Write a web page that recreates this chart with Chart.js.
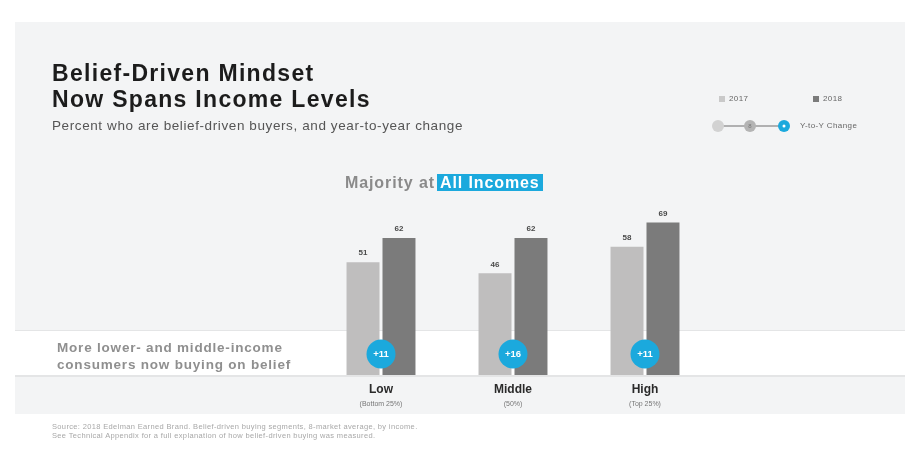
<!DOCTYPE html>
<html>
<head>
<meta charset="utf-8">
<script src="https://cdn.jsdelivr.net/npm/chart.js@4"></script>
<style>
  body { margin: 0; background: #fff; font-family: "Liberation Sans", Arial, sans-serif; }
  #wrap { position: relative; width: 905px; height: 458px; overflow: hidden; }
  #chart { position: absolute; left: 0; top: 0; }
  .txt { position: absolute; white-space: nowrap; }
  #title { left: 52px; top: 60px; font-size: 23px; font-weight: bold; color: #1c1c1c; line-height: 26px; letter-spacing: 1.3px; }
  #sub { left: 52px; top: 118px; font-size: 13.5px; color: #555; letter-spacing: 0.6px; }
  #maj { left: 345px; top: 172px; font-size: 16px; font-weight: bold; color: #8a8a8a; line-height: 22px; letter-spacing: 0.9px; }
  #maj span { background: #1ba9dd; color: #fff; padding: 0 3px; margin-left: 2px; }
  #msg { left: 57px; top: 339px; font-size: 13.5px; font-weight: bold; color: #8f8f8f; line-height: 17px; letter-spacing: 0.8px; }
  #src { left: 52px; top: 423px; font-size: 7.5px; color: #a8a8a8; line-height: 8.5px; letter-spacing: 0.35px; }
  .leg { font-size: 8px; color: #666; letter-spacing: 0.4px; }
</style>
</head>
<body>
<div id="wrap">
  <canvas id="chart" width="905" height="458"></canvas>
  <div class="txt" id="title">Belief-Driven Mindset<br>Now Spans Income Levels</div>
  <div class="txt" id="sub">Percent who are belief-driven buyers, and year-to-year change</div>
  <div class="txt" id="maj">Majority at<span>All Incomes</span></div>
  <div class="txt" id="msg">More lower- and middle-income<br>consumers now buying on belief</div>
  <div class="txt" id="src">Source: 2018 Edelman Earned Brand. Belief-driven buying segments, 8-market average, by income.<br>See Technical Appendix for a full explanation of how belief-driven buying was measured.</div>
  <div class="txt leg" style="left:729px; top:94px;">2017</div>
  <div class="txt leg" style="left:823px; top:94px;">2018</div>
  <div class="txt leg" style="left:800px; top:121px;">Y-to-Y Change</div>
</div>
<script>
// 数据
const categories = ['Low', 'Middle', 'High'];
const categoryNotes = ['(Bottom 25%)', '(50%)', '(Top 25%)'];
const values2017 = [51, 46, 58];
const values2018 = [62, 62, 69];
const changes = ['+11', '+16', '+11'];

const lightGray = '#bfbebe';
const darkGray = '#7b7b7b';
const blue = '#1ba9dd';

// 背景、数值标签、变化气泡、类别标签
const decorPlugin = {
    id: 'decor',
    beforeDraw(chart) {
        const ctx = chart.ctx;
        ctx.save();
        ctx.fillStyle = '#ffffff';
        ctx.fillRect(0, 0, chart.width, chart.height);
        ctx.fillStyle = '#f3f4f5';
        ctx.fillRect(15, 22, 890, 392);
        // 白色横带
        ctx.fillStyle = '#e4e5e6';
        ctx.fillRect(15, 330, 890, 2);
        ctx.fillRect(15, 375, 890, 2);
        ctx.fillStyle = '#ffffff';
        ctx.fillRect(15, 331, 890, 44);

        // 图例
        ctx.fillStyle = '#c9c9c9';
        ctx.fillRect(719, 96, 6, 6);
        ctx.fillStyle = darkGray;
        ctx.fillRect(813, 96, 6, 6);
        ctx.strokeStyle = '#9a9a9a';
        ctx.lineWidth = 1.5;
        ctx.beginPath();
        ctx.moveTo(718, 126);
        ctx.lineTo(783, 126);
        ctx.stroke();
        ctx.fillStyle = '#d2d2d2';
        ctx.beginPath(); ctx.arc(718, 126, 6, 0, Math.PI * 2); ctx.fill();
        ctx.fillStyle = '#b4b4b4';
        ctx.beginPath(); ctx.arc(750, 126, 6, 0, Math.PI * 2); ctx.fill();
        ctx.fillStyle = blue;
        ctx.beginPath(); ctx.arc(784, 126, 6, 0, Math.PI * 2); ctx.fill();
        ctx.fillStyle = '#ffffff';
        ctx.beginPath(); ctx.arc(784, 126, 1.5, 0, Math.PI * 2); ctx.fill();
        ctx.fillStyle = '#777';
        ctx.font = '6px "Liberation Sans", Arial';
        ctx.textAlign = 'center';
        ctx.textBaseline = 'middle';
        ctx.fillText('8', 750, 126);
        ctx.restore();
    },
    afterDatasetsDraw(chart) {
        const ctx = chart.ctx;
        const x = chart.scales.x;
        const area = chart.chartArea;
        ctx.save();
        ctx.textAlign = 'center';

        // 数值标签
        ctx.font = 'bold 8px "Liberation Sans", Arial';
        ctx.fillStyle = '#4a4a4a';
        ctx.textBaseline = 'bottom';
        chart.data.datasets.forEach((ds, di) => {
            chart.getDatasetMeta(di).data.forEach((bar, i) => {
                ctx.fillText(ds.data[i], bar.x, bar.y - 5);
            });
        });

        categories.forEach((cat, i) => {
            const cx = x.getPixelForValue(i);
            // 缝隙白线
            ctx.fillStyle = '#ffffff';
            ctx.fillRect(cx - 1, area.bottom - 40, 2, 40);
            // 变化气泡
            ctx.fillStyle = blue;
            ctx.beginPath();
            ctx.arc(cx, area.bottom - 21, 14.5, 0, Math.PI * 2);
            ctx.fill();
            ctx.fillStyle = '#ffffff';
            ctx.font = 'bold 9.5px "Liberation Sans", Arial';
            ctx.textBaseline = 'middle';
            ctx.fillText(changes[i], cx, area.bottom - 21);
            // 类别标签
            ctx.fillStyle = '#2a2a2a';
            ctx.font = 'bold 12px "Liberation Sans", Arial';
            ctx.fillText(cat, cx, area.bottom + 15);
            ctx.fillStyle = '#777';
            ctx.font = '7px "Liberation Sans", Arial';
            ctx.fillText(categoryNotes[i], cx, area.bottom + 29);
        });
        ctx.restore();
    }
};

function initChart() {
    const el = document.getElementById('chart');
    new Chart(el.getContext('2d'), {
        type: 'bar',
        data: {
            labels: categories,
            datasets: [
                { label: '2017', data: values2017, backgroundColor: lightGray, borderWidth: 0 },
                { label: '2018', data: values2018, backgroundColor: darkGray, borderWidth: 0 }
            ]
        },
        options: {
            responsive: false,
            animation: false,
            categoryPercentage: 0.545,
            barPercentage: 0.917,
            layout: { padding: { left: 315, right: 194, top: 154, bottom: 83 } },
            scales: {
                x: { display: false },
                y: { display: false, min: 0, max: 100 }
            },
            plugins: {
                legend: { display: false },
                tooltip: { enabled: false }
            }
        },
        plugins: [decorPlugin]
    });
}

if (document.readyState === 'loading') {
    document.addEventListener('DOMContentLoaded', initChart);
} else {
    initChart();
}
</script>
</body>
</html>
